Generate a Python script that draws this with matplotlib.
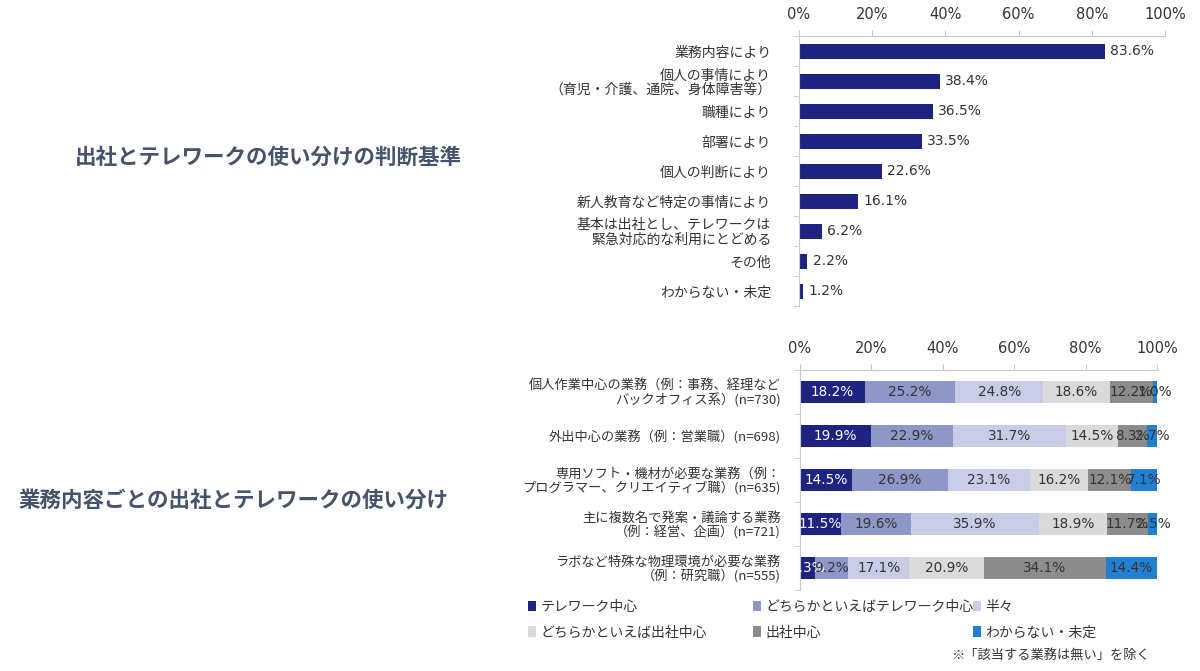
import matplotlib
matplotlib.use("Agg")
import matplotlib.pyplot as plt
from matplotlib.patches import Patch
import numpy as np

plt.rcParams['font.family'] = ['Noto Sans CJK JP', 'DejaVu Sans']
NUM_FONT = 'DejaVu Sans'

# ---- data: top chart ----
criteria = ["業務内容により", "個人の事情により\n（育児・介護、通院、身体障害等）", "職種により", "部署により",
            "個人の判断により", "新人教育など特定の事情により",
            "基本は出社とし、テレワークは\n緊急対応的な利用にとどめる", "その他", "わからない・未定"]
criteria_values = [83.6, 38.4, 36.5, 33.5, 22.6, 16.1, 6.2, 2.2, 1.2]

# ---- data: bottom chart ----
jobs = ["個人作業中心の業務（例：事務、経理など\nバックオフィス系）(n=730)",
        "外出中心の業務（例：営業職）(n=698)",
        "専用ソフト・機材が必要な業務（例：\nプログラマー、クリエイティブ職）(n=635)",
        "主に複数名で発案・議論する業務\n（例：経営、企画）(n=721)",
        "ラボなど特殊な物理環境が必要な業務\n（例：研究職）(n=555)"]
series_names = ["テレワーク中心", "どちらかといえばテレワーク中心", "半々",
                "どちらかといえば出社中心", "出社中心", "わからない・未定"]
telework = [18.2, 19.9, 14.5, 11.5, 4.3]
rather_telework = [25.2, 22.9, 26.9, 19.6, 9.2]
half = [24.8, 31.7, 23.1, 35.9, 17.1]
rather_office = [18.6, 14.5, 16.2, 18.9, 20.9]
office = [12.2, 8.3, 12.1, 11.7, 34.1]
unknown = [1.0, 2.7, 7.1, 2.5, 14.4]
series_values = [telework, rather_telework, half, rather_office, office, unknown]

ticks = [0, 20, 40, 60, 80, 100]
tick_labels = ["0%", "20%", "40%", "60%", "80%", "100%"]

navy = "#1f2380"
colors = ["#1f2380", "#8f97c9", "#c9cce7", "#dadada", "#8c8c8c", "#2280d2"]
label_colors = ["white", "#333333", "#333333", "#333333", "#333333", "#333333"]
title_color = "#44546a"
text_color = "#333333"
axis_color = "#c8c8c8"

fig = plt.figure(figsize=(12, 6.71), dpi=100)

def style_axis(ax, n):
    ax.set_xlim(0, 100)
    ax.set_ylim(n - 0.5, -0.5)
    ax.xaxis.tick_top()
    ax.set_xticks(ticks)
    ax.set_xticklabels(tick_labels, fontsize=10.5, color=text_color, fontfamily=NUM_FONT)
    ax.tick_params(axis="x", length=4, color=axis_color, pad=6)
    ax.set_yticks(np.arange(-0.5, n, 1), minor=True)
    ax.tick_params(axis="y", which="minor", length=4, color=axis_color)
    for s in ["right", "bottom"]:
        ax.spines[s].set_visible(False)
    ax.spines["top"].set_color(axis_color)
    ax.spines["left"].set_color(axis_color)

# ---- top chart ----
ax1 = fig.add_axes([799 / 1200, 1 - 306 / 671, 366 / 1200, 270 / 671])
y1 = np.arange(len(criteria))
ax1.barh(y1, criteria_values, height=0.5, color=navy)
for yi, v in zip(y1, criteria_values):
    ax1.text(v + 1.5, yi, f"{v:.1f}%", va="center", ha="left", fontsize=10,
             color=text_color, fontfamily=NUM_FONT)
style_axis(ax1, len(criteria))
ax1.set_yticks(y1)
ax1.set_yticklabels(criteria, fontsize=10, color=text_color, linespacing=1.0)
ax1.tick_params(axis="y", length=0, pad=20)

# ---- bottom chart ----
ax2 = fig.add_axes([800 / 1200, 1 - 590 / 671, 357 / 1200, 220 / 671])
y2 = np.arange(len(jobs))
left = np.zeros(len(jobs))
for vals, c, lc in zip(series_values, colors, label_colors):
    vals = np.array(vals)
    ax2.barh(y2, vals, left=left, height=0.5, color=c)
    for yi, l, v in zip(y2, left, vals):
        ax2.text(l + v / 2, yi, f"{v:.1f}%", va="center", ha="center", fontsize=9.8,
                 color=lc, fontfamily=NUM_FONT)
    left = left + vals
style_axis(ax2, len(jobs))
ax2.set_yticks(y2)
ax2.set_yticklabels(jobs, fontsize=9.5, color=text_color, linespacing=1.0)
ax2.tick_params(axis="y", length=0, pad=14)

# ---- titles ----
fig.text(0.0625, 1 - 157 / 671, "出社とテレワークの使い分けの判断基準", fontsize=15.5,
         fontweight="bold", color=title_color, va="center", ha="left")
fig.text(0.015, 1 - 500 / 671, "業務内容ごとの出社とテレワークの使い分け", fontsize=15.5,
         fontweight="bold", color=title_color, va="center", ha="left")

# ---- legend (three columns of two items) ----
handles = [Patch(facecolor=c, edgecolor="none") for c in colors]
col_x = [525 / 1200, 750 / 1200, 970 / 1200]
for ci in range(3):
    idx = [ci, ci + 3]
    leg = fig.legend([handles[i] for i in idx], [series_names[i] for i in idx],
                     loc="upper left", bbox_to_anchor=(col_x[ci], 1 - 597 / 671),
                     frameon=False, fontsize=10, handlelength=0.6, handleheight=0.8,
                     handletextpad=0.3, labelspacing=0.85, borderaxespad=0, borderpad=0.2)
    for t in leg.get_texts():
        t.set_color(text_color)

fig.text(1150 / 1200, 1 - 656 / 671, "※「該当する業務は無い」を除く", fontsize=9.5,
         color=text_color, ha="right", va="center")

fig.savefig("out.png", dpi=100)
